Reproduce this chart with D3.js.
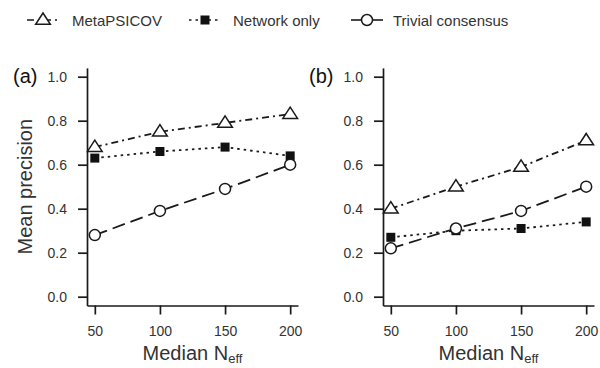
<!DOCTYPE html>
<html>
<head>
<meta charset="utf-8">
<script src="https://cdn.jsdelivr.net/npm/d3@7"></script>
<style>
  body { margin: 0; background: #fff; }
  svg { display: block; font-family: "Liberation Sans", Arial, sans-serif; }
</style>
</head>
<body>
<svg id="chart" width="600" height="368"></svg>
<script>
// data
const nEff = [50, 100, 150, 200];
const xTicks = [50, 100, 150, 200];
const yTicks = [0, 0.2, 0.4, 0.6, 0.8, 1.0];
const seriesNames = ["MetaPSICOV", "Network only", "Trivial consensus"];

const metaA = [0.68, 0.75, 0.79, 0.83];
const netA = [0.63, 0.66, 0.68, 0.64];
const trivA = [0.28, 0.39, 0.49, 0.60];

const metaB = [0.40, 0.50, 0.59, 0.71];
const netB = [0.27, 0.30, 0.31, 0.34];
const trivB = [0.22, 0.31, 0.39, 0.50];

const panelLabels = ["(a)", "(b)"];

// styling per series
const styles = [
  { dash: "7,4,2,4", shape: "triangle" },
  { dash: "2.5,4", shape: "square" },
  { dash: "13,6", shape: "circle" }
];

const svg = d3.select("#chart");
const ink = "#1a1a1a";
const textCol = "#333";

function drawMarker(g, shape, x, y) {
  if (shape === "triangle") {
    const s = 7;
    g.append("path")
      .attr("d", `M${x},${y - s} L${x + s * 1.05},${y + s * 0.62} L${x - s * 1.05},${y + s * 0.62} Z`)
      .attr("fill", "#fff").attr("stroke", ink).attr("stroke-width", 1.5);
  } else if (shape === "square") {
    g.append("rect")
      .attr("x", x - 4.5).attr("y", y - 4.5)
      .attr("width", 9).attr("height", 9)
      .attr("fill", "#111");
  } else {
    g.append("circle")
      .attr("cx", x).attr("cy", y).attr("r", 5.5)
      .attr("fill", "#fff").attr("stroke", ink).attr("stroke-width", 1.5);
  }
}

const y = d3.scaleLinear().domain([-0.04, 1.04]).range([305.5, 67.9]);

function drawPanel(left, right, series, label, showTitle) {
  const x = d3.scaleLinear().domain([44, 206]).range([left, right]);
  const g = svg.append("g");

  const xAxis = g.append("g")
    .attr("transform", `translate(0,${y(-0.04)})`)
    .call(d3.axisBottom(x).tickValues(xTicks).tickSize(9).tickSizeOuter(0).tickPadding(12));
  const yAxis = g.append("g")
    .attr("transform", `translate(${left},0)`)
    .call(d3.axisLeft(y).tickValues(yTicks).tickSize(9).tickSizeOuter(0).tickPadding(11)
      .tickFormat(d3.format(".1f")));

  [xAxis, yAxis].forEach(a => {
    a.select(".domain").attr("stroke", ink).attr("stroke-width", 1.7);
    a.selectAll(".tick line").attr("stroke", ink).attr("stroke-width", 1.7);
    a.selectAll(".tick text")
      .attr("fill", textCol)
      .style("font-size", "14px")
      .style("font-family", "'Liberation Sans', Arial, sans-serif");
  });

  // x axis title with subscript
  const xt = g.append("text")
    .attr("x", (left + right) / 2)
    .attr("y", 360)
    .attr("text-anchor", "middle")
    .attr("fill", textCol)
    .style("font-size", "20px");
  xt.append("tspan").text("Median N");
  xt.append("tspan").attr("dy", 3).style("font-size", "13px").text("eff");

  if (showTitle) {
    g.append("text")
      .attr("transform", `translate(25,${(y(-0.04) + y(1.04)) / 2}) rotate(-90)`)
      .attr("text-anchor", "middle")
      .attr("dy", "0.35em")
      .attr("fill", textCol)
      .style("font-size", "20px")
      .text("Mean precision");
  }

  g.append("text")
    .attr("x", left - 74)
    .attr("y", 83)
    .attr("fill", "#111")
    .style("font-size", "20px")
    .text(label);

  const line = d3.line().x((d, i) => x(nEff[i])).y(d => y(d));

  series.forEach((vals, k) => {
    g.append("path")
      .datum(vals)
      .attr("d", line)
      .attr("fill", "none")
      .attr("stroke", ink)
      .attr("stroke-width", 1.8)
      .attr("stroke-dasharray", styles[k].dash);
  });
  series.forEach((vals, k) => {
    vals.forEach((v, i) => drawMarker(g, styles[k].shape, x(nEff[i]), y(v)));
  });
}

drawPanel(87, 298, [metaA, netA, trivA], panelLabels[0], true);
drawPanel(383, 594, [metaB, netB, trivB], panelLabels[1], false);

// legend
const legendX = [43, 205, 367];
const legendTextX = [72, 233, 393];
const leg = svg.append("g");
seriesNames.forEach((name, k) => {
  const cx = legendX[k];
  leg.append("line")
    .attr("x1", cx - 16).attr("x2", cx + 16)
    .attr("y1", 20).attr("y2", 20)
    .attr("stroke", ink).attr("stroke-width", 1.6)
    .attr("stroke-dasharray", k === 2 ? null : styles[k].dash);
  drawMarker(leg, styles[k].shape, cx, 20);
  leg.append("text")
    .attr("x", legendTextX[k])
    .attr("y", 25.5)
    .attr("fill", textCol)
    .style("font-size", "15px")
    .text(name);
});
</script>
</body>
</html>
